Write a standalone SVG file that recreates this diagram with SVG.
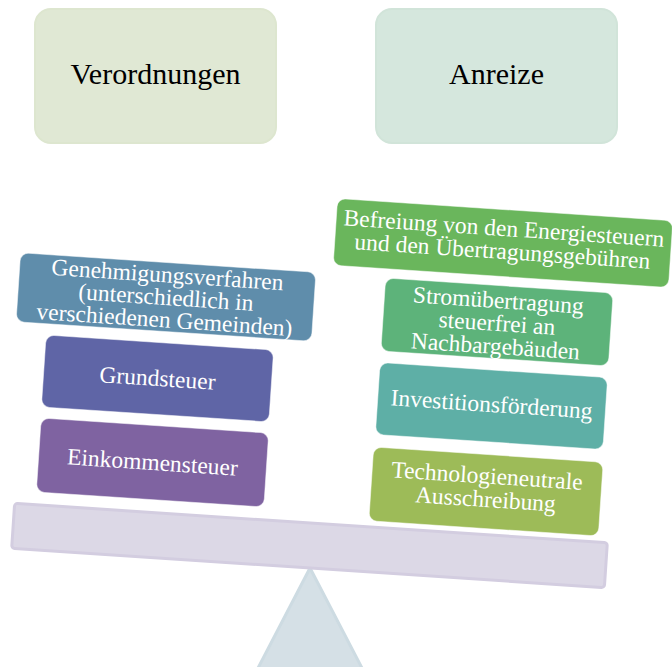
<svg xmlns="http://www.w3.org/2000/svg" width="672" height="667" viewBox="0 0 672 667">
<style>
text{font-family:"Liberation Serif","Times New Roman",serif;text-anchor:middle}
.lab{fill:#ffffff;font-size:23.5px}
.top{fill:#000000;font-size:30px}
.bx{stroke:#ffffff;stroke-opacity:0.5;stroke-width:1}
</style>
<rect width="672" height="667" fill="#ffffff"/>
<g id="verordnungen">
<rect x="35" y="9" width="241" height="134" rx="16" fill="#e0e8d4" stroke="#dde6cf" stroke-width="2"/>
<text class="top" x="155.5" y="84">Verordnungen</text>
</g>
<g id="anreize">
<rect x="376" y="9" width="241" height="134" rx="16" fill="#d5e7dd" stroke="#d1e4d9" stroke-width="2"/>
<text class="top" x="496.5" y="84">Anreize</text>
</g>
<g id="fulcrum">
<polygon points="310,568 257,670 363,670" fill="#d5e0e6" stroke="#cddbe2" stroke-width="3" stroke-linejoin="round"/>
</g>
<g id="beam" transform="translate(309.5 545.5) rotate(3.8)">
<rect x="-297" y="-22.5" width="594" height="45" rx="3" fill="#dcd8e6" stroke="#d3cde0" stroke-width="3"/>
</g>
<g id="genehmigung" transform="translate(166 297) rotate(3.8)">
<rect class="bx" x="-148" y="-34.5" width="296" height="69" rx="8" fill="#5f8dab"/>
<text class="lab" x="0" y="-14.5">Genehmigungsverfahren</text>
<text class="lab" x="0" y="8">(unterschiedlich in</text>
<text class="lab" x="0" y="30.5">verschiedenen Gemeinden)</text>
</g>
<g id="grundsteuer" transform="translate(157.5 378.5) rotate(3.8)">
<rect class="bx" x="-114" y="-36" width="228" height="72" rx="8" fill="#5f65a6"/>
<text class="lab" x="0" y="7.5">Grundsteuer</text>
</g>
<g id="einkommensteuer" transform="translate(152.5 462.5) rotate(3.8)">
<rect class="bx" x="-114" y="-37" width="228" height="74" rx="8" fill="#7f63a1"/>
<text class="lab" x="0" y="7.5">Einkommensteuer</text>
</g>
<g id="befreiung" transform="translate(503 243) rotate(3.8)">
<rect class="bx" x="-168" y="-33.5" width="336" height="67" rx="8" fill="#6ab65c"/>
<text class="lab" x="0" y="-7">Befreiung von den Energiesteuern</text>
<text class="lab" x="0" y="16">und den Übertragungsgebühren</text>
</g>
<g id="strom" transform="translate(497 322) rotate(3.8)">
<rect class="bx" x="-114" y="-36.5" width="228" height="73" rx="8" fill="#5db37a"/>
<text class="lab" x="0" y="-14">Stromübertragung</text>
<text class="lab" x="0" y="9">steuerfrei an</text>
<text class="lab" x="0" y="32">Nachbargebäuden</text>
</g>
<g id="investition" transform="translate(491.5 406) rotate(3.8)">
<rect class="bx" x="-114" y="-36" width="228" height="72" rx="8" fill="#5eafa6"/>
<text class="lab" x="0" y="6">Investitionsförderung</text>
</g>
<g id="technologie" transform="translate(486 491.5) rotate(3.8)">
<rect class="bx" x="-115" y="-37" width="230" height="74" rx="8" fill="#9dbb58"/>
<text class="lab" x="0" y="-8">Technologieneutrale</text>
<text class="lab" x="0" y="15.5">Ausschreibung</text>
</g>
<g id="connectors"></g>
</svg>
